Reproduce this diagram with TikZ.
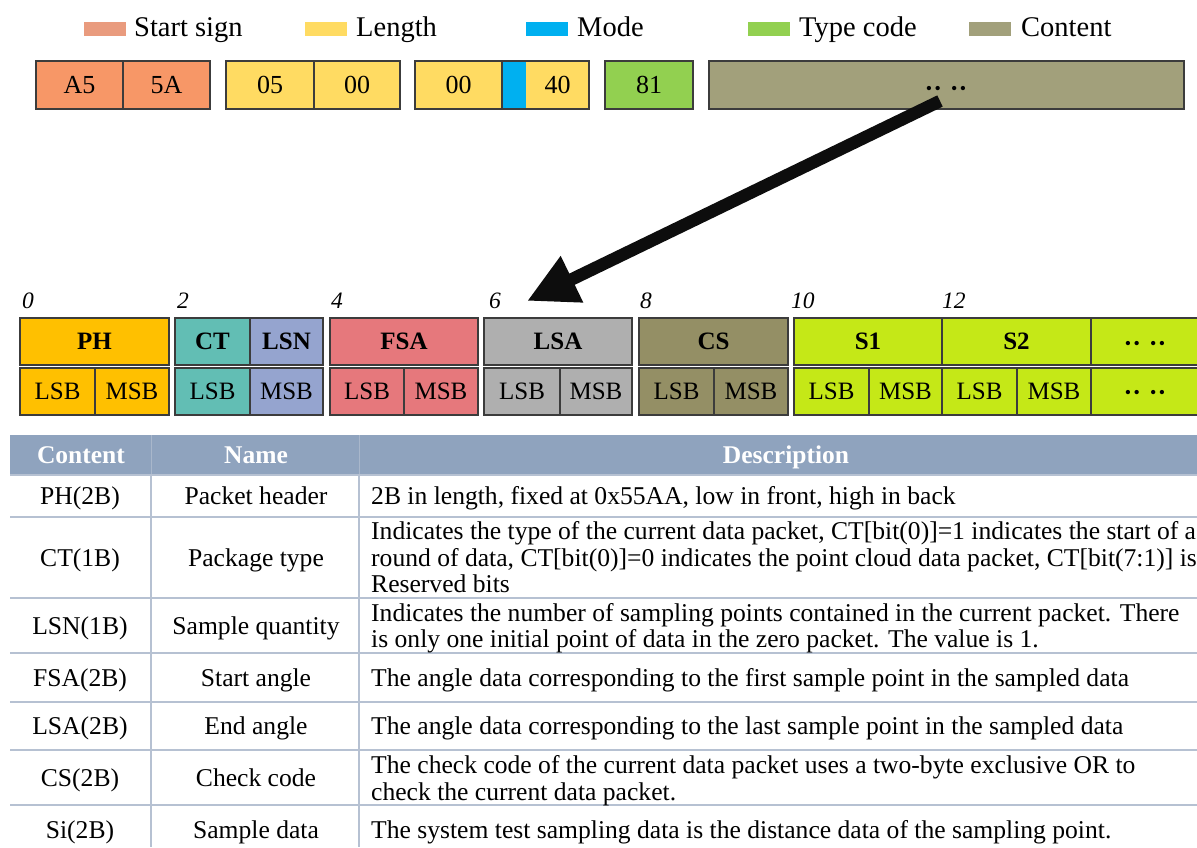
\documentclass[tikz,border=0pt]{standalone}
\usepackage{fontspec}
\setmainfont{Liberation Serif}
\usetikzlibrary{arrows.meta}
\definecolor{cStart}{HTML}{F79767}
\definecolor{cStartL}{HTML}{E99B7E}
\definecolor{cLen}{HTML}{FFDB62}
\definecolor{cMode}{HTML}{00B0F0}
\definecolor{cType}{HTML}{92D050}
\definecolor{cCont}{HTML}{A2A07B}
\definecolor{cPH}{HTML}{FFC000}
\definecolor{cCT}{HTML}{62BEB4}
\definecolor{cLSN}{HTML}{95A4CF}
\definecolor{cFSA}{HTML}{E6787C}
\definecolor{cLSA}{HTML}{AFAFAF}
\definecolor{cCS}{HTML}{948F65}
\definecolor{cS}{HTML}{C5E817}
\definecolor{cHead}{HTML}{8FA3BE}
\definecolor{cHeadLine}{HTML}{A9B7CB}
\definecolor{cGrid}{HTML}{B6C1D2}
\definecolor{cBorder}{HTML}{3C3C3C}
\newcommand{\fourdots}{•\kern2.6pt•\kern10pt•\kern2.6pt•}
\begin{document}
\begin{tikzpicture}[x=1pt,y=-1pt,
  topcell/.style={draw=cBorder, line width=1.2pt, inner sep=0pt, outer sep=0pt, anchor=north west,
    minimum height=48pt, font=\fontsize{26}{30}\selectfont, text height=17pt, text depth=0pt},
  midcell/.style={draw=cBorder, line width=1.2pt, inner sep=0pt, outer sep=0pt, anchor=north west,
    minimum height=47pt, font=\fontsize{25}{30}\selectfont, text height=16.4pt, text depth=0pt},
  midhead/.style={midcell, font=\fontsize{25}{30}\selectfont\bfseries},
  swatch/.style={inner sep=0pt, outer sep=0pt, anchor=north west, minimum width=42pt, minimum height=14pt},
  legtext/.style={anchor=base west, inner sep=0pt, font=\fontsize{28.5}{32}\selectfont},
  numlab/.style={anchor=base west, inner sep=0pt, font=\fontsize{23.5}{26}\selectfont\itshape},
  headtext/.style={anchor=base, inner sep=0pt, text=white, font=\fontsize{25.5}{30}\selectfont\bfseries},
  ctext/.style={anchor=base, inner sep=0pt, font=\fontsize{25.6}{30}\selectfont},
  dtext/.style={anchor=base west, inner sep=0pt, font=\fontsize{25.6}{30}\selectfont},
  dots/.style={inner sep=0pt, font=\fontsize{18}{20}\selectfont},
  grid/.style={draw=cGrid, line width=1.5pt}
]
\useasboundingbox (0,0) rectangle (1197,847);
\fill[white] (0,0) rectangle (1197,847);

% legend
\node[swatch, fill=cStartL] (lg1) at (84,22) {};
\node[legtext] (lt1) at (134,36) {Start sign};
\node[swatch, fill=cLen] (lg2) at (305,22) {};
\node[legtext] (lt2) at (356,36) {Length};
\node[swatch, fill=cMode] (lg3) at (526,22) {};
\node[legtext] (lt3) at (577,36) {Mode};
\node[swatch, fill=cType] (lg4) at (748,22) {};
\node[legtext] (lt4) at (799,36) {Type code};
\node[swatch, fill=cCont] (lg5) at (969,22) {};
\node[legtext] (lt5) at (1021,36) {Content};

% top frame
\node[topcell, fill=cStart, minimum width=87pt] (a5) at (36,61) {A5};
\node[topcell, fill=cStart, minimum width=87pt] (s5a) at (123,61) {5A};
\node[topcell, fill=cLen, minimum width=88pt] (l05) at (226,61) {05};
\node[topcell, fill=cLen, minimum width=86pt] (l00) at (314,61) {00};
\node[topcell, fill=cLen, minimum width=87pt] (m00) at (415,61) {00};
\node[topcell, draw=none, fill=cMode, minimum width=24pt] (mblue) at (502,61) {};
\node[topcell, draw=none, fill=cLen, minimum width=63pt] (m40) at (526,61) {40};
\draw[draw=cBorder, line width=1.2pt] (mblue.north west) rectangle (m40.south east);
\node[topcell, fill=cType, minimum width=88pt] (t81) at (605,61) {81};
\node[topcell, fill=cCont, minimum width=475pt] (cont) at (709,61) {};
\node[dots] (contdots) at (946,90) {\fourdots};

% arrow
\coordinate (arrS) at (940,101);
\coordinate (arrE) at (527,301);
\draw[line width=12.5pt, black!95, -{Triangle[length=50pt,width=48pt]}] (arrS) -- (arrE);

% byte labels
\node[numlab] (n0) at (22,308) {0};
\node[numlab] (n2) at (177,308) {2};
\node[numlab] (n4) at (331,308) {4};
\node[numlab] (n6) at (489,308) {6};
\node[numlab] (n8) at (640,308) {8};
\node[numlab] (n10) at (791,308) {10};
\node[numlab] (n12) at (942,308) {12};

% middle frame
\node[midhead, fill=cPH, minimum width=149pt] (ph) at (20,318) {PH};
\node[midcell, fill=cPH, minimum width=75pt] (phl) at (20,368) {LSB};
\node[midcell, fill=cPH, minimum width=74pt] (phm) at (95,368) {MSB};

\node[midhead, fill=cCT, minimum width=75pt] (ct) at (175,318) {CT};
\node[midhead, fill=cLSN, minimum width=73pt] (lsn) at (250,318) {LSN};
\node[midcell, fill=cCT, minimum width=75pt] (ctl) at (175,368) {LSB};
\node[midcell, fill=cLSN, minimum width=73pt] (lsnm) at (250,368) {MSB};

\node[midhead, fill=cFSA, minimum width=148pt] (fsa) at (330,318) {FSA};
\node[midcell, fill=cFSA, minimum width=74pt] (fsal) at (330,368) {LSB};
\node[midcell, fill=cFSA, minimum width=74pt] (fsam) at (404,368) {MSB};

\node[midhead, fill=cLSA, minimum width=148pt] (lsa) at (484,318) {LSA};
\node[midcell, fill=cLSA, minimum width=76pt] (lsal) at (484,368) {LSB};
\node[midcell, fill=cLSA, minimum width=72pt] (lsam) at (560,368) {MSB};

\node[midhead, fill=cCS, minimum width=149pt] (cs) at (639,318) {CS};
\node[midcell, fill=cCS, minimum width=75pt] (csl) at (639,368) {LSB};
\node[midcell, fill=cCS, minimum width=74pt] (csm) at (714,368) {MSB};

\node[midhead, fill=cS, minimum width=148pt] (s1) at (794,318) {S1};
\node[midcell, fill=cS, minimum width=75pt] (s1l) at (794,368) {LSB};
\node[midcell, fill=cS, minimum width=73pt] (s1m) at (869,368) {MSB};
\node[midhead, fill=cS, minimum width=149pt] (s2) at (942,318) {S2};
\node[midcell, fill=cS, minimum width=75pt] (s2l) at (942,368) {LSB};
\node[midcell, fill=cS, minimum width=74pt] (s2m) at (1017,368) {MSB};
\node[midhead, fill=cS, minimum width=120pt] (sx) at (1091,318) {};
\node[midcell, fill=cS, minimum width=120pt] (sxl) at (1091,368) {};
\node[dots] (sxd1) at (1145,345) {\fourdots};
\node[dots] (sxd2) at (1145,394) {\fourdots};

% table
\fill[cHead] (10,435) rectangle (1197,475);
\draw[cHeadLine, line width=1pt] (151,435) -- (151,475);
\draw[cHeadLine, line width=1pt] (359,435) -- (359,475);
\node[headtext] (hc) at (81,463) {Content};
\node[headtext] (hn) at (256,463) {Name};
\node[headtext] (hd) at (786,463) {Description};

\foreach \yy in {475,517,598,653,702,750,805} {\draw[grid] (10,\yy) -- (1197,\yy);}
\draw[grid] (151,475) -- (151,847);
\draw[grid] (359,475) -- (359,847);

\node[ctext] (c1) at (80,504) {PH(2B)};
\node[ctext] (m1) at (256,504) {Packet header};
\node[dtext] (d1) at (371,504) {2B in length, fixed at 0x55AA, low in front, high in back};

\node[ctext] (c2) at (80,566) {CT(1B)};
\node[ctext] (m2) at (256,566) {Package type};
\node[dtext] (d2a) at (371,539) {Indicates the type of the current data packet, CT[bit(0)]=1 indicates the start of a};
\node[dtext] (d2b) at (371,566) {round of data, CT[bit(0)]=0 indicates the point cloud data packet, CT[bit(7:1)] is};
\node[dtext] (d2c) at (371,592) {Reserved bits};

\node[ctext] (c3) at (80,634) {LSN(1B)};
\node[ctext] (m3) at (256,634) {Sample quantity};
\node[dtext] (d3a) at (371,621) {Indicates the number of sampling points contained in the current packet. There};
\node[dtext] (d3b) at (371,647) {is only one initial point of data in the zero packet. The value is 1.};

\node[ctext] (c4) at (80,686) {FSA(2B)};
\node[ctext] (m4) at (256,686) {Start angle};
\node[dtext] (d4) at (371,686) {The angle data corresponding to the first sample point in the sampled data};

\node[ctext] (c5) at (80,734) {LSA(2B)};
\node[ctext] (m5) at (256,734) {End angle};
\node[dtext] (d5) at (371,734) {The angle data corresponding to the last sample point in the sampled data};

\node[ctext] (c6) at (80,786) {CS(2B)};
\node[ctext] (m6) at (256,786) {Check code};
\node[dtext] (d6a) at (371,773) {The check code of the current data packet uses a two-byte exclusive OR to};
\node[dtext] (d6b) at (371,800) {check the current data packet.};

\node[ctext] (c7) at (80,838) {Si(2B)};
\node[ctext] (m7) at (256,838) {Sample data};
\node[dtext] (d7) at (371,838) {The system test sampling data is the distance data of the sampling point.};
\end{tikzpicture}
\end{document}
